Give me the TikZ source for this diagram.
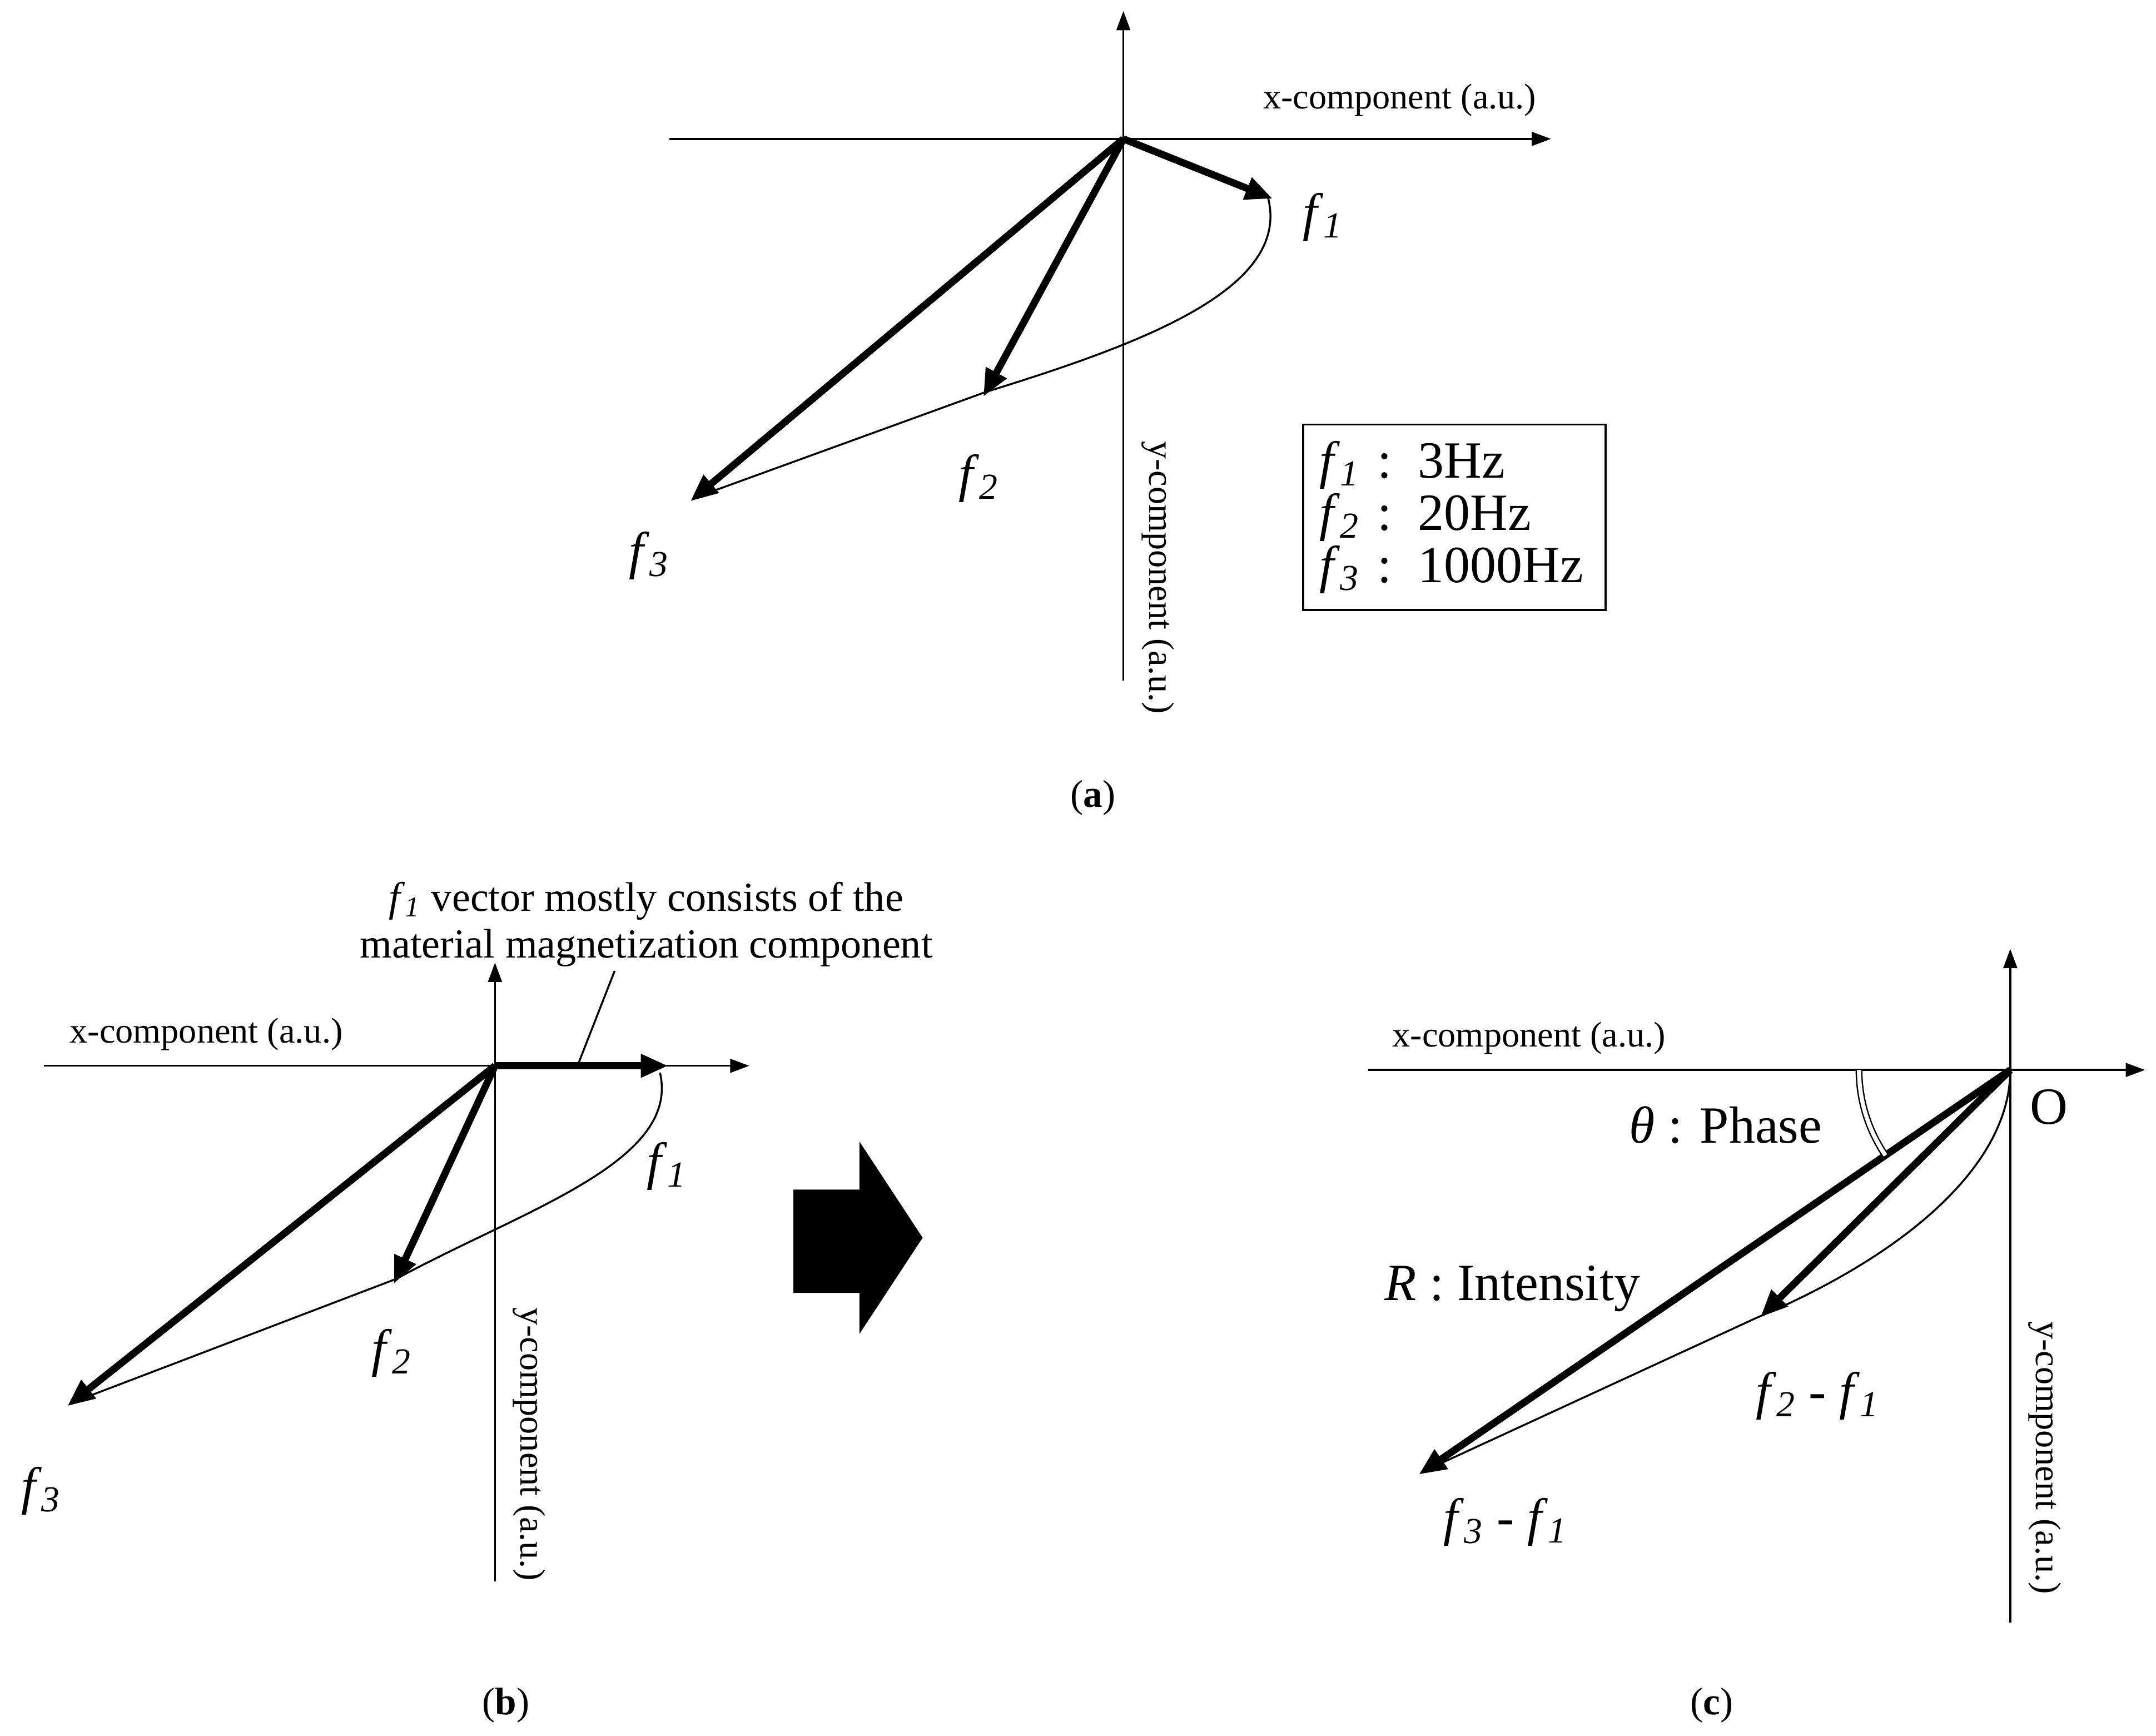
\documentclass[tikz,border=0pt]{standalone}
\usepackage{fontspec}
\setmainfont{Liberation Serif}
\usetikzlibrary{arrows.meta,calc}
\newcommand{\fq}[1]{\textit{f}\textsubscript{\textit{#1}}}
\begin{document}
\begin{tikzpicture}[x=0.5pt,y=-0.5pt,
 ax/.style={line width=0.7pt,-{Triangle[length=7pt,width=5pt]}},
 vec/.style={line width=2.6pt,-{Triangle[length=10pt,width=8pt]},shorten >=-2pt},
 crv/.style={line width=0.7pt},
 lab/.style={font=\fontsize{13}{15}\selectfont},
 fl/.style={font=\fontsize{19}{21}\selectfont},
 captxt/.style={font=\fontsize{14}{16}\selectfont}]
\useasboundingbox (0,0) rectangle (1568,1262);
% ---------- (a)
\coordinate (Oa) at (817,101);
\coordinate (axl) at (487,101); \coordinate (axr) at (1128,101);
\coordinate (ayt) at (817,8); \coordinate (ayb) at (817,495);
\draw[ax] (axl) -- (axr);
\draw[ax] (ayb) -- (ayt);
\coordinate (a1) at (922,143); \coordinate (a2) at (717,285); \coordinate (a3) at (505,362);
\draw[crv] (a1) .. controls (940,210) and (830,250) .. (a2) -- (a3);
\draw[vec] (Oa) -- (a1);
\draw[vec] (Oa) -- (a2);
\draw[vec] (Oa) -- (a3);
\node[lab] (xa) at (1018,73) {x-component (a.u.)};
\node[lab,rotate=-90] (ya) at (842,420) {y-component (a.u.)};
\node[fl] (fa1) at (962,158) {\fq{1}};
\node[fl] (fa2) at (712,348) {\fq{2}};
\node[fl] (fa3) at (472,404) {\fq{3}};
\node[draw,line width=0.7pt,align=left,fl,inner sep=6pt,anchor=north west,text width=98pt] (leg) at (947,308) {\fq{1} : 3Hz\\[-2pt]\fq{2} : 20Hz\\[-2pt]\fq{3} : 1000Hz};
\node[captxt] (ca) at (795,580) {(\textbf{a})};
% ---------- (b)
\coordinate (Ob) at (360,775);
\coordinate (bxl) at (32,775); \coordinate (bxr) at (545,775);
\coordinate (byt) at (360,700); \coordinate (byb) at (360,1150);
\draw[ax] (bxl) -- (bxr);
\draw[ax] (byb) -- (byt);
\coordinate (b1) at (482,775); \coordinate (b2) at (288,930); \coordinate (b3) at (52,1020);
\draw[crv] (480,780) .. controls (495,845) and (380,880) .. (b2) -- (b3);
\draw[vec] (Ob) -- (b1);
\draw[vec] (Ob) -- (b2);
\draw[vec] (Ob) -- (b3);
\coordinate (lead1) at (420,775); \coordinate (lead2) at (447,706);
\draw[line width=0.7pt] (lead1) -- (lead2);
\node[lab] (xb) at (150,752) {x-component (a.u.)};
\node[lab,rotate=-90] (yb) at (385,1050) {y-component (a.u.)};
\node[fl] (fb1) at (485,848) {\fq{1}};
\node[fl] (fb2) at (285,984) {\fq{2}};
\node[fl] (fb3) at (30,1084) {\fq{3}};
\node[font=\fontsize{15}{17}\selectfont,align=center] (note) at (470,672) {\fq{1} vector mostly consists of the\\material magnetization component};
\node[captxt] (cb) at (368,1240) {(\textbf{b})};
% ---------- big arrow
\fill (577,865) -- (625,865) -- (625,830) -- (671,900) -- (625,970) -- (625,940) -- (577,940) -- cycle;
% ---------- (c)
\coordinate (Oc) at (1462,778);
\coordinate (cxl) at (995,778); \coordinate (cxr) at (1560,778);
\coordinate (cyt) at (1462,690); \coordinate (cyb) at (1462,1180);
\draw[ax] (cxl) -- (cxr);
\draw[ax] (cyb) -- (cyt);
\coordinate (c2) at (1283,955); \coordinate (c3) at (1035,1070);
\draw[crv] (Oc) .. controls (1462,850) and (1380,915) .. (1278,958) -- (c3);
\draw[vec] (Oc) -- (c2);
\draw[vec] (Oc) -- (c3);
\draw[line width=0.5pt,double,double distance=1.5pt] (Oc) ++(180:55pt) arc[start angle=180,end angle=214.4,radius=55pt];
\node[lab] (xc) at (1112,755) {x-component (a.u.)};
\node[lab,rotate=-90] (yc) at (1487,1060) {y-component (a.u.)};
\node[fl] (oc) at (1490,805) {O};
\node[fl] (th) at (1255,818) {\textit{θ} : Phase};
\node[fl] (ri) at (1100,937) {\textit{R} : Intensity};
\node[fl] (d2) at (1322,1015) {\fq{2} - \fq{1}};
\node[fl] (d3) at (1095,1107) {\fq{3} - \fq{1}};
\node[captxt] (cc) at (1245,1240) {(\textbf{c})};
\end{tikzpicture}
\end{document}
